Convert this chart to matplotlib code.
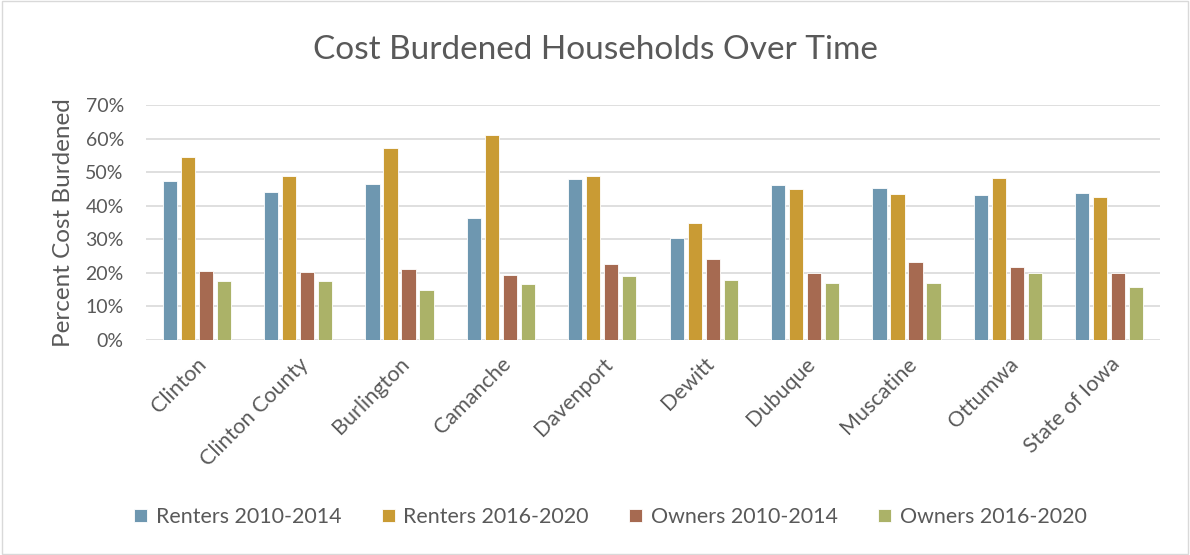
import matplotlib
matplotlib.use("Agg")
import matplotlib.pyplot as plt
import numpy as np
from matplotlib.ticker import PercentFormatter
from matplotlib.patches import Rectangle

categories = ["Clinton", "Clinton County", "Burlington", "Camanche", "Davenport",
              "Dewitt", "Dubuque", "Muscatine", "Ottumwa", "State of Iowa"]
renters_2010_2014 = [47.3, 44.0, 46.5, 36.2, 47.9, 30.3, 46.1, 45.2, 43.1, 43.8]
renters_2016_2020 = [54.6, 49.0, 57.1, 61.2, 49.0, 34.8, 45.0, 43.5, 48.4, 42.7]
owners_2010_2014 = [20.6, 20.4, 21.1, 19.3, 22.5, 24.0, 20.1, 23.1, 21.6, 19.9]
owners_2016_2020 = [17.7, 17.7, 14.8, 16.6, 19.0, 17.9, 17.1, 16.9, 19.9, 15.8]
series_names = ["Renters 2010-2014", "Renters 2016-2020", "Owners 2010-2014", "Owners 2016-2020"]
colors = ["#6E97B0", "#C99B34", "#A66A51", "#ABB268"]

plt.rcParams['font.family'] = ['Lato', 'DejaVu Sans']
text_color = "#595959"

fig = plt.figure(figsize=(11.9, 5.55), dpi=100)
ax = fig.add_axes([146/1190, 1 - 340/555, (1160-146)/1190, (340-105)/555])

x = np.arange(len(categories))
width = 0.14
step = 0.178
series = [renters_2010_2014, renters_2016_2020, owners_2010_2014, owners_2016_2020]
for i, (vals, name, c) in enumerate(zip(series, series_names, colors)):
    ax.bar(x + (i - 1.5) * step, vals, width, color=c, label=name,
           edgecolor="white", linewidth=0.6, zorder=3)

ax.set_xlim(-0.5, len(categories) - 0.5)
ax.set_ylim(0, 70)
ax.set_yticks(np.arange(0, 71, 10))
ax.yaxis.set_major_formatter(PercentFormatter(decimals=0))
ax.grid(axis='y', color="#D9D9D9", linewidth=1.2, zorder=0)
for s in ax.spines.values():
    s.set_visible(False)
ax.tick_params(axis='both', length=0, colors=text_color)
ax.tick_params(axis='y', pad=16, labelsize=14)
ax.set_xticks(x)
ax.set_xticklabels(categories, rotation=45, ha='right', rotation_mode='anchor', fontsize=15.5)
ax.tick_params(axis='x', pad=10)
ax.set_ylabel("Percent Cost Burdened", fontsize=17.5, color=text_color, labelpad=8)

fig.text(0.5, 1 - 50/555, "Cost Burdened Households Over Time", ha='center', va='center',
         fontsize=24, color=text_color)

leg = fig.legend(loc='center', bbox_to_anchor=(0.513, 1 - 517/555), ncol=4, frameon=False,
                 fontsize=15.4, handlelength=0.6, handleheight=0.6, columnspacing=1.9,
                 handletextpad=0.4, labelcolor=text_color)

fig.patches.append(Rectangle((0.002, 0.002), 0.996, 0.996, transform=fig.transFigure,
                             fill=False, edgecolor="#D9D9D9", linewidth=1))

fig.savefig("out.png", dpi=100, facecolor="white")
